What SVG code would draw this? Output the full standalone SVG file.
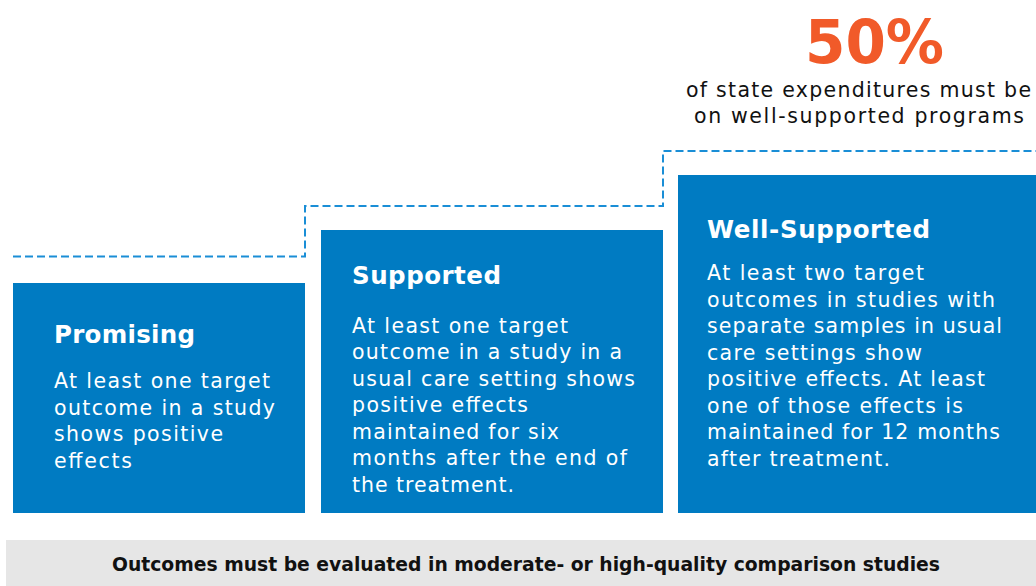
<svg xmlns="http://www.w3.org/2000/svg" width="1036" height="586" viewBox="0 0 1036 586">
  <style>
    .box { fill: #007bc2; }
    .title { font-family: "DejaVu Sans", "Liberation Sans", sans-serif; font-weight: 700; font-size: 24.5px; fill: #ffffff; }
    .body { font-family: "DejaVu Sans", "Liberation Sans", sans-serif; font-size: 20.5px; fill: #ffffff; }
    .step { fill: none; stroke: #1a8ed6; stroke-width: 2; stroke-dasharray: 8 4; }
    .pct { font-family: "DejaVu Sans", "Liberation Sans", sans-serif; font-weight: 700; font-size: 61px; fill: #f15a29; }
    .note { font-family: "DejaVu Sans", "Liberation Sans", sans-serif; font-size: 20.5px; fill: #111111; }
    .foot { font-family: "DejaVu Sans Condensed", "Liberation Sans", sans-serif; font-weight: 700; font-size: 19px; fill: #111111; }
  </style>
  <rect width="1036" height="586" fill="#ffffff"/>

  <!-- stepped dashed threshold line -->
  <g id="connectors">
    <path class="step" d="M13 256.5 H305 V206 H663 V151 H1036"/>
  </g>

  <g id="callout">
    <text class="pct" x="805" y="63" textLength="139" lengthAdjust="spacingAndGlyphs">50%</text>
    <text class="note" x="686" y="97" textLength="345" lengthAdjust="spacing">of state expenditures must be</text>
    <text class="note" x="694" y="123" textLength="330" lengthAdjust="spacing">on well-supported programs</text>
  </g>

  <g id="promising">
    <rect class="box" x="13" y="283" width="292" height="230"/>
    <text class="title" x="54" y="343" textLength="141" lengthAdjust="spacing">Promising</text>
    <text class="body" x="54" y="388" textLength="216" lengthAdjust="spacing">At least one target</text>
    <text class="body" x="54" y="414.5" textLength="221" lengthAdjust="spacing">outcome in a study</text>
    <text class="body" x="54" y="441" textLength="169" lengthAdjust="spacing">shows positive</text>
    <text class="body" x="54" y="467.5" textLength="78" lengthAdjust="spacing">effects</text>
  </g>

  <g id="supported">
    <rect class="box" x="321" y="230" width="342" height="283"/>
    <text class="title" x="352" y="284" textLength="149" lengthAdjust="spacing">Supported</text>
    <text class="body" x="352" y="332.5" textLength="216" lengthAdjust="spacing">At least one target</text>
    <text class="body" x="352" y="359" textLength="270" lengthAdjust="spacing">outcome in a study in a</text>
    <text class="body" x="352" y="385.5" textLength="283" lengthAdjust="spacing">usual care setting shows</text>
    <text class="body" x="352" y="412" textLength="176" lengthAdjust="spacing">positive effects</text>
    <text class="body" x="352" y="438.5" textLength="207" lengthAdjust="spacing">maintained for six</text>
    <text class="body" x="352" y="465" textLength="275" lengthAdjust="spacing">months after the end of</text>
    <text class="body" x="352" y="491.5" textLength="162" lengthAdjust="spacing">the treatment.</text>
  </g>

  <g id="well-supported">
    <rect class="box" x="678" y="175" width="358" height="338"/>
    <text class="title" x="707" y="238" textLength="223" lengthAdjust="spacing">Well-Supported</text>
    <text class="body" x="707" y="280" textLength="217" lengthAdjust="spacing">At least two target</text>
    <text class="body" x="707" y="306.5" textLength="288" lengthAdjust="spacing">outcomes in studies with</text>
    <text class="body" x="707" y="333" textLength="295" lengthAdjust="spacing">separate samples in usual</text>
    <text class="body" x="707" y="359.5" textLength="215" lengthAdjust="spacing">care settings show</text>
    <text class="body" x="707" y="386" textLength="278" lengthAdjust="spacing">positive effects. At least</text>
    <text class="body" x="707" y="412.5" textLength="256" lengthAdjust="spacing">one of those effects is</text>
    <text class="body" x="707" y="439" textLength="293" lengthAdjust="spacing">maintained for 12 months</text>
    <text class="body" x="707" y="465.5" textLength="183" lengthAdjust="spacing">after treatment.</text>
  </g>

  <g id="footer">
    <rect x="6" y="540" width="1030" height="46" fill="#e6e6e6"/>
    <text class="foot" x="112" y="571" textLength="828" lengthAdjust="spacingAndGlyphs">Outcomes must be evaluated in moderate- or high-quality comparison studies</text>
  </g>
</svg>
